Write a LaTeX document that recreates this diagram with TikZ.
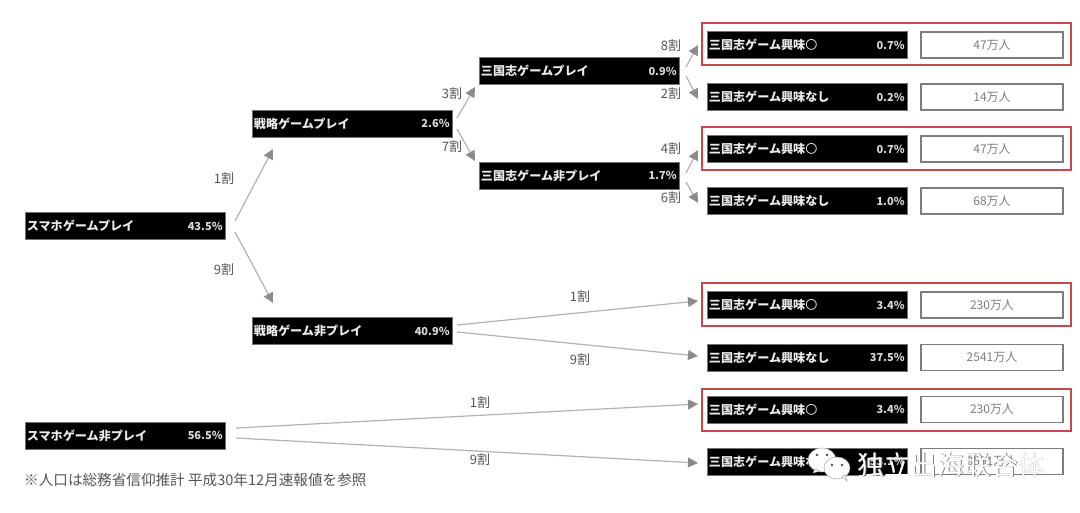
\documentclass[tikz,border=0pt]{standalone}
\usepackage{fontspec}
\usetikzlibrary{arrows.meta}
\setmainfont{Noto Sans CJK JP}
\newfontfamily\cnfont{Noto Sans CJK SC}
\definecolor{redframe}{RGB}{196,72,78}
\definecolor{arrowgray}{RGB}{178,178,178}
\definecolor{tipgray}{RGB}{140,140,140}
\definecolor{txtgray}{RGB}{85,85,85}
\definecolor{boxgray}{RGB}{125,125,125}
\definecolor{numgray}{RGB}{125,125,125}
\tikzset{
  blackbox/.style={fill=black,draw=black!55,line width=0.6pt,minimum width=200pt,minimum height=27pt,inner sep=0pt},
  boxlabel/.style={anchor=west,text=white!92!black,inner sep=0pt,font=\fontsize{12.1}{14}\selectfont\bfseries},
  boxpct/.style={anchor=east,text=white!85!black,inner sep=0pt,font=\fontsize{11}{13}\selectfont\bfseries},
  countbox/.style={fill=white,draw=boxgray,line width=1.1pt,minimum width=142pt,minimum height=26pt,inner sep=0pt,text=numgray,font=\fontsize{12}{14}\selectfont},
  redbox/.style={draw=redframe,line width=1.5pt,fill=none,minimum width=369pt,inner sep=0pt},
  ratio/.style={text=txtgray,inner sep=0pt,font=\fontsize{13}{15}\selectfont},
  flow/.style={draw=arrowgray,line width=1.2pt,-{Triangle[length=10pt,width=10pt,color=tipgray]}},
  note/.style={anchor=west,text=txtgray,inner sep=0pt,font=\fontsize{14.6}{17}\selectfont},
  wmark/.style={anchor=west,inner sep=0pt,font=\cnfont\fontsize{26.8}{30}\selectfont},
  bubble/.style={fill=white,draw=black!35,line width=0.5pt},
  eye/.style={fill=black!70,draw=none,circle,inner sep=0pt,minimum size=2.6pt}
}
\newcommand{\blk}[6]{%
  \node[blackbox] (#1) at (#2,#3) {};
  \node[boxlabel] (#1t) at ([xshift=#6pt]#1.west) {#4};
  \node[boxpct] (#1p) at ([xshift=-2.5pt]#1.east) {#5};
}
\newcommand{\maru}{{\mdseries 〇}}
\begin{document}
\begin{tikzpicture}[x=1pt,y=-1pt]
\useasboundingbox (0,0) rectangle (1080,513);
\fill[white] (0,0) rectangle (1080,513);
% red frames
\node[redbox,minimum height=42pt] (r1) at (886.5,44) {};
\node[redbox,minimum height=43pt] (r2) at (886.5,148.5) {};
\node[redbox,minimum height=43pt] (r3) at (886.5,304.5) {};
\node[redbox,minimum height=42pt] (r4) at (886.5,410) {};
% black boxes
\blk{root}{125}{226}{スマホゲームプレイ}{43.5\%}{2}
\blk{root2}{125}{435.5}{スマホゲーム非プレイ}{56.5\%}{2}
\blk{st}{352}{123.5}{戦略ゲームプレイ}{2.6\%}{2}
\blk{stn}{352}{331}{戦略ゲーム非プレイ}{40.9\%}{2}
\blk{sg}{579}{71}{三国志ゲームプレイ}{0.9\%}{2}
\blk{sgn}{579}{175.5}{三国志ゲーム非プレイ}{1.7\%}{2}
\blk{l1}{807}{45}{三国志ゲーム興味\maru}{0.7\%}{2}
\blk{l2}{807}{97}{三国志ゲーム興味なし}{0.2\%}{2}
\blk{l3}{807}{149}{三国志ゲーム興味\maru}{0.7\%}{2}
\blk{l4}{807}{201}{三国志ゲーム興味なし}{1.0\%}{2}
\blk{l5}{807}{305}{三国志ゲーム興味\maru}{3.4\%}{2}
\blk{l6}{807}{357.5}{三国志ゲーム興味なし}{37.5\%}{2}
\blk{l7}{807}{409.5}{三国志ゲーム興味\maru}{3.4\%}{2}
\blk{l8}{807}{461.5}{三国志ゲーム興味なし}{53.1\%}{2}
% count boxes
\node[countbox] (c1) at (992,45) {47万人};
\node[countbox] (c2) at (992,97) {14万人};
\node[countbox] (c3) at (992,149) {47万人};
\node[countbox] (c4) at (992,201) {68万人};
\node[countbox] (c5) at (992,305) {230万人};
\node[countbox] (c6) at (992,357.5) {2541万人};
\node[countbox] (c7) at (992,409.5) {230万人};
\node[countbox] (c8) at (992,461.5) {3591万人};
% connector ends
\coordinate (a1s) at (235,221);  \coordinate (a1e) at (273,149);
\coordinate (a2s) at (235,232);  \coordinate (a2e) at (273,303);
\coordinate (a3s) at (457,118);  \coordinate (a3e) at (475,87);
\coordinate (a4s) at (457,129);  \coordinate (a4e) at (475,161);
\coordinate (a5s) at (686,67);   \coordinate (a5e) at (698,45);
\coordinate (a6s) at (686,76);   \coordinate (a6e) at (698,99);
\coordinate (a7s) at (686,173);  \coordinate (a7e) at (698,150);
\coordinate (a8s) at (686,182);  \coordinate (a8e) at (698,203);
\coordinate (a9s) at (457,325);  \coordinate (a9e) at (698,301);
\coordinate (a10s) at (457,332); \coordinate (a10e) at (698,356);
\coordinate (a11s) at (236,428); \coordinate (a11e) at (698,404);
\coordinate (a12s) at (236,438); \coordinate (a12e) at (698,463);
\foreach \n in {1,...,12}{\draw[flow] (a\n s) -- (a\n e);}
% ratios
\node[ratio] (t1) at (224,179) {1割};
\node[ratio] (t2) at (224,270) {9割};
\node[ratio] (t3) at (452,94) {3割};
\node[ratio] (t4) at (452,147) {7割};
\node[ratio] (t5) at (671,46) {8割};
\node[ratio] (t6) at (671,94) {2割};
\node[ratio] (t7) at (671,149) {4割};
\node[ratio] (t8) at (671,198) {6割};
\node[ratio] (t9) at (580,297) {1割};
\node[ratio] (t10) at (580,360) {9割};
\node[ratio] (t11) at (480,403) {1割};
\node[ratio] (t12) at (480,460) {9割};
% footnote
\node[note] (fn) at (24,480) {※人口は総務省信仰推計 平成30年12月速報値を参照};
% watermark
\path[bubble] (822,460) ellipse [x radius=14,y radius=12];
\path[bubble] (815,469) -- (813,473) -- (820,471) -- cycle;
\path[bubble] (837,468) ellipse [x radius=13,y radius=11];
\path[bubble] (842,477) -- (847,481) -- (845,475) -- cycle;
\node[eye] (e1) at (817,455) {};
\node[eye] (e2) at (827,455) {};
\node[eye] (e3) at (832,465) {};
\node[eye] (e4) at (842,465) {};
\node[wmark,text=black!50] (ws) at (857.8,465.8) {独立出海联合体};
\node[wmark,text=white] (w) at (857,465) {独立出海联合体};
\end{tikzpicture}
\end{document}
